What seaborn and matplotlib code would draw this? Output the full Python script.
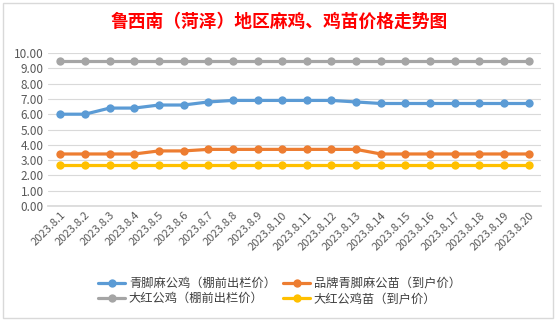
import matplotlib
matplotlib.use("Agg")
import matplotlib.pyplot as plt
import seaborn as sns
import pandas as pd
from matplotlib.patches import Rectangle

dates = ["2023.8.%d" % d for d in range(1, 21)]
qingjiao_gongji = [6.0, 6.0, 6.4, 6.4, 6.6, 6.6, 6.8, 6.9, 6.9, 6.9,
                   6.9, 6.9, 6.8, 6.7, 6.7, 6.7, 6.7, 6.7, 6.7, 6.7]
pinpai_miao = [3.4, 3.4, 3.4, 3.4, 3.6, 3.6, 3.7, 3.7, 3.7, 3.7,
               3.7, 3.7, 3.7, 3.4, 3.4, 3.4, 3.4, 3.4, 3.4, 3.4]
dahong_gongji = [9.5] * 20
dahong_miao = [2.7] * 20

names = ["青脚麻公鸡（棚前出栏价）", "品牌青脚麻公苗（到户价）",
         "大红公鸡（棚前出栏价）", "大红公鸡苗（到户价）"]
colors = ["#5B9BD5", "#ED7D31", "#A5A5A5", "#FFC000"]
series = [qingjiao_gongji, pinpai_miao, dahong_gongji, dahong_miao]

rows = []
for n, vals in zip(names, series):
    for i, (d, v) in enumerate(zip(dates, vals)):
        rows.append({"date": d, "idx": i, "price": v, "series": n})
df = pd.DataFrame(rows)

sns.set_theme(style="white")
plt.rcParams['font.family'] = ['Noto Sans CJK SC', 'DejaVu Sans']

fig = plt.figure(figsize=(5.59, 3.23), dpi=100)
fig.patch.set_facecolor("white")
ax = fig.add_axes([48 / 559, 1 - 206 / 323, (541 - 48) / 559, (206 - 53) / 323])

sns.lineplot(data=df, x="idx", y="price", hue="series", hue_order=names,
             palette=colors, marker="o", markersize=6, markeredgewidth=0,
             linewidth=2.3, ax=ax, legend=True)

ax.set_xlim(-0.5, 19.5)
ax.set_ylim(0, 10)
ax.set_yticks([i for i in range(11)])
ax.set_yticklabels(["%.2f" % i for i in range(11)], fontsize=8.5, color="#595959")
ax.set_xticks(range(20))
ax.set_xticklabels(dates, rotation=45, ha="right", rotation_mode="anchor",
                   fontsize=8, color="#595959")
ax.tick_params(axis="both", length=0, pad=3)
ax.yaxis.grid(True, color="#D9D9D9", linewidth=0.8)
ax.set_axisbelow(True)
for s in ["top", "right", "left"]:
    ax.spines[s].set_visible(False)
ax.spines["bottom"].set_color("#D9D9D9")
ax.set_xlabel("")
ax.set_ylabel("")

ax.legend_.remove()
handles, labels = ax.get_legend_handles_labels()
order = [0, 2, 1, 3]
leg = fig.legend([handles[i] for i in order], [labels[i] for i in order],
                 loc="center", bbox_to_anchor=(0.5, 1 - 291 / 323),
                 ncol=2, frameon=False, fontsize=8.8, handlelength=2.2,
                 columnspacing=0.6, handletextpad=0.3, labelspacing=0.2)
for t in leg.get_texts():
    t.set_color("#404040")

fig.text(0.5, 1 - 22 / 323, "鲁西南（菏泽）地区麻鸡、鸡苗价格走势图", ha="center", va="center",
         fontsize=12.8, fontweight="bold", color="#FF0000")

fig.patches.append(Rectangle((3 / 559, 5 / 323), 553 / 559 - 3 / 559, 1 - 8 / 323,
                             transform=fig.transFigure, fill=False,
                             edgecolor="#D9D9D9", linewidth=1))

fig.savefig("out.png", dpi=100)
